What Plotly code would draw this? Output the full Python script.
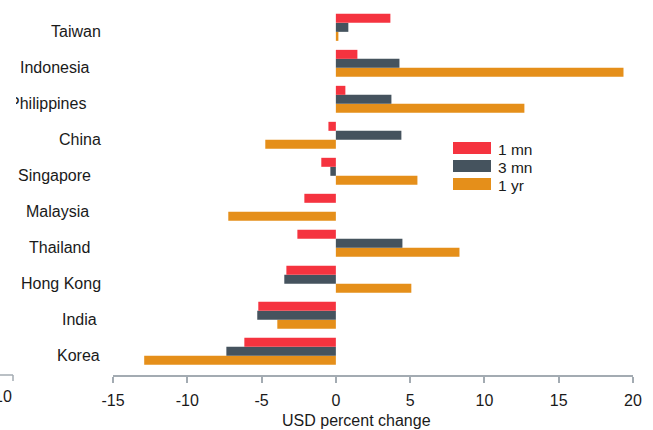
import plotly.graph_objects as go

# Categories listed bottom-to-top (Korea at the bottom of the chart)
countries = ["Korea", "India", "Hong Kong", "Thailand", "Malaysia",
             "Singapore", "China", "Philippines", "Indonesia", "Taiwan"]

# USD percent change by horizon
chg_1mn = [-6.16, -5.22, -3.33, -2.59, -2.12, -0.98, -0.50, 0.64, 1.45, 3.67]
chg_3mn = [-7.37, -5.29, -3.47, 4.48, 0.0, -0.37, 4.41, 3.74, 4.28, 0.84]
chg_1yr = [-12.90, -3.94, 5.08, 8.32, -7.24, 5.49, -4.75, 12.69, 19.36, 0.17]

series_names = ["1 mn", "3 mn", "1 yr"]
x_ticks = [-15, -10, -5, 0, 5, 10, 15, 20]

COLORS = {"1 mn": "#F5333F", "3 mn": "#45535E", "1 yr": "#E58F1A"}
FONT = "Liberation Sans, Arial, sans-serif"
TEXT = "#1a1a1a"
AXIS = "#A3ABB2"

W, H = 653, 430
ML, MR, MT, MB = 113, 20, 9, 55
PW, PH = W - ML - MR, H - MT - MB


def px_x(p):
    return (p - ML) / PW


def px_y(p):
    return (H - MB - p) / PH


fig = go.Figure()
# added bottom-first so that within each group 1 mn sits on top
for name, vals in [("1 yr", chg_1yr), ("3 mn", chg_3mn), ("1 mn", chg_1mn)]:
    fig.add_trace(go.Bar(
        y=countries, x=vals, name=name, orientation="h",
        marker=dict(color=COLORS[name], line=dict(width=0)),
        showlegend=False,
    ))

annotations = []
shapes = []

# category labels, set a little left of the plot
label_right_px = [102, 99, 103, 92, 91, 93, 103, 88, 91, 103]
for c, rp in zip(countries, label_right_px):
    annotations.append(dict(
        x=px_x(rp), xref="paper", y=c, yref="y", text=c,
        xanchor="right", yanchor="middle", yshift=-4, showarrow=False,
        font=dict(family=FONT, size=16, color=TEXT),
    ))

# the label column is clipped a little inside the left edge
annotations.append(dict(
    x=px_x(0), xref="paper", y="Philippines", yref="y", text=" ",
    xanchor="left", yanchor="middle", yshift=-4, showarrow=False,
    width=16, height=24, bgcolor="white", borderpad=0, borderwidth=0,
    font=dict(family=FONT, size=16, color=TEXT),
))

# legend drawn as wide swatches with labels
for i, name in enumerate(series_names):
    top = 142 + 18 * i
    shapes.append(dict(
        type="rect", xref="paper", yref="paper",
        x0=px_x(453), x1=px_x(491), y0=px_y(top + 12), y1=px_y(top),
        fillcolor=COLORS[name], line=dict(width=0),
    ))
    annotations.append(dict(
        x=px_x(496), xref="paper", y=px_y(top + 7), yref="paper",
        text=name, xanchor="left", yanchor="middle", showarrow=False,
        font=dict(family=FONT, size=15.5, color=TEXT),
    ))

# axis title
annotations.append(dict(
    x=px_x(356), xref="paper", y=px_y(420), yref="paper",
    text="USD percent change", xanchor="center", yanchor="middle",
    showarrow=False, font=dict(family=FONT, size=16, color=TEXT),
))

# edge of the neighbouring panel's axis at far left
shapes.append(dict(type="line", xref="paper", yref="paper",
                   x0=px_x(0), x1=px_x(13), y0=px_y(375), y1=px_y(375),
                   line=dict(color=AXIS, width=1.5)))
shapes.append(dict(type="line", xref="paper", yref="paper",
                   x0=px_x(13), x1=px_x(13), y0=px_y(375), y1=px_y(381),
                   line=dict(color=AXIS, width=1.5)))
annotations.append(dict(
    x=px_x(14), xref="paper", y=px_y(396), yref="paper", text="10",
    xanchor="right", yanchor="middle", showarrow=False,
    font=dict(family=FONT, size=16, color=TEXT),
))

fig.update_layout(
    width=W, height=H,
    margin=dict(l=ML, r=MR, t=MT, b=MB, pad=0),
    paper_bgcolor="white", plot_bgcolor="white",
    barmode="group", bargap=0.25, bargroupgap=0,
    font=dict(family=FONT, size=16, color=TEXT),
    xaxis=dict(
        range=[-15, 20], tickvals=x_ticks,
        ticktext=[str(v) for v in x_ticks],
        showgrid=False, zeroline=False,
        showline=True, linecolor=AXIS, linewidth=1.5,
        ticks="outside", ticklen=6, tickwidth=1.5, tickcolor=AXIS,
        tickfont=dict(family=FONT, size=16, color=TEXT),
        ticklabelstandoff=4,
    ),
    yaxis=dict(
        categoryorder="array", categoryarray=countries,
        range=[-0.66, 9.51], showticklabels=False, showgrid=False,
        zeroline=False, showline=False, ticks="",
    ),
    annotations=annotations, shapes=shapes,
)

fig.write_html("out.html")
